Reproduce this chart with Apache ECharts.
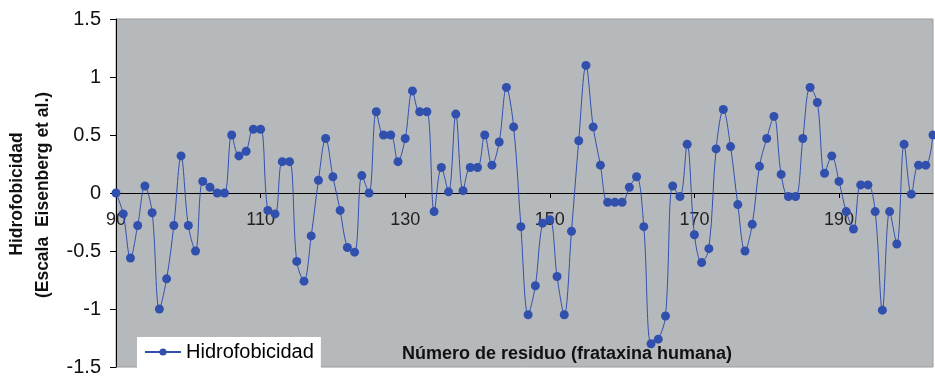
<!DOCTYPE html>
<html>
<head>
<meta charset="utf-8">
<script src="https://cdn.jsdelivr.net/npm/echarts@6/dist/echarts.min.js"></script>
<style>
  html, body { margin: 0; padding: 0; background: #ffffff; }
  #chart { width: 935px; height: 376px; }
</style>
</head>
<body>
<div id="chart"></div>
<script>
// Hydrophobicity profile (Eisenberg scale) for residues 90–203 of human frataxin
const firstResidue = 90;
const hydrophobicity = [
  0.00, -0.18, -0.56, -0.28, 0.06, -0.17, -1.00, -0.74, -0.28, 0.32,
  -0.28, -0.50, 0.10, 0.05, 0.00, 0.00, 0.50, 0.32, 0.36, 0.55,
  0.55, -0.15, -0.18, 0.27, 0.27, -0.59, -0.76, -0.37, 0.11, 0.47,
  0.14, -0.15, -0.47, -0.51, 0.15, 0.00, 0.70, 0.50, 0.50, 0.27,
  0.47, 0.88, 0.70, 0.70, -0.16, 0.22, 0.01, 0.68, 0.02, 0.22,
  0.22, 0.50, 0.24, 0.44, 0.91, 0.57, -0.29, -1.05, -0.80, -0.26,
  -0.23, -0.72, -1.05, -0.33, 0.45, 1.10, 0.57, 0.24, -0.08, -0.08,
  -0.08, 0.05, 0.14, -0.29, -1.30, -1.26, -1.06, 0.06, -0.03, 0.42,
  -0.36, -0.60, -0.48, 0.38, 0.72, 0.40, -0.10, -0.50, -0.27, 0.23,
  0.47, 0.66, 0.16, -0.03, -0.03, 0.47, 0.91, 0.78, 0.17, 0.32,
  0.10, -0.16, -0.31, 0.07, 0.07, -0.16, -1.01, -0.16, -0.44, 0.42,
  -0.01, 0.24, 0.24, 0.50
];
const residues = hydrophobicity.map((_, i) => String(firstResidue + i));
const yTicks = [-1.5, -1, -0.5, 0, 0.5, 1, 1.5];

const seriesName = 'Hidrofobicidad';
const xTitle = 'Número de residuo (frataxina humana)';
const yTitle1 = 'Hidrofobicidad';
const yTitle2 = '(Escala  Eisenberg et al.)';

const font = '"Liberation Sans", Arial, sans-serif';
const blue = '#3150ad';

// plot box geometry; the category axis sits on the zero line, i.e. half-way up
const gridTop = 19;
const gridBottom = 9;
const plotHeight = 376 - gridTop - gridBottom;

const chart = echarts.init(document.getElementById('chart'), null, { renderer: 'canvas' });
chart.setOption({
  animation: false,
  backgroundColor: '#ffffff',
  textStyle: { fontFamily: font },
  grid: {
    left: 116, right: 2, top: gridTop, bottom: gridBottom,
    containLabel: false,
    outerBoundsMode: 'none',
    show: true,
    backgroundColor: '#b6b9bc',
    borderColor: '#9a9a9a',
    borderWidth: 1
  },
  xAxis: {
    type: 'category',
    data: residues,
    boundaryGap: false,
    offset: -plotHeight / 2,
    axisLine: { onZero: false, lineStyle: { color: '#000000', width: 1 } },
    axisTick: { show: true, interval: 19, inside: false, length: 5, lineStyle: { color: '#000000' } },
    axisLabel: { interval: 19, margin: 18, fontSize: 18, color: '#222222', fontFamily: font },
    splitLine: { show: false }
  },
  yAxis: {
    type: 'value',
    min: yTicks[0],
    max: yTicks[yTicks.length - 1],
    interval: 0.5,
    axisLine: { show: true, lineStyle: { color: '#000000', width: 1 } },
    axisTick: { show: true, length: 6, lineStyle: { color: '#000000' } },
    axisLabel: { margin: 15, fontSize: 20, color: '#111111', fontFamily: font,
      formatter: v => String(v) },
    splitLine: { show: false }
  },
  legend: {
    left: 137, top: 337,
    backgroundColor: '#ffffff',
    padding: [5, 7, 6, 7],
    itemWidth: 36, itemHeight: 9,
    itemGap: 4,
    textStyle: { fontSize: 20, color: '#000000', fontFamily: font },
    data: [seriesName]
  },
  graphic: [
    {
      type: 'text', x: 567, y: 354,
      style: { text: xTitle, font: 'bold 18px ' + font, fill: '#111111', textAlign: 'center', textVerticalAlign: 'middle' }
    },
    {
      type: 'text', x: 17, y: 194, rotation: Math.PI / 2,
      style: { text: yTitle1, font: 'bold 17.5px ' + font, fill: '#111111', textAlign: 'center', textVerticalAlign: 'middle' }
    },
    {
      type: 'text', x: 43, y: 195, rotation: Math.PI / 2,
      style: { text: yTitle2, font: 'bold 17.5px ' + font, fill: '#111111', textAlign: 'center', textVerticalAlign: 'middle' }
    }
  ],
  series: [{
    name: seriesName,
    type: 'line',
    data: hydrophobicity,
    smooth: 0.35,
    symbol: 'circle',
    symbolSize: 9,
    showAllSymbol: true,
    lineStyle: { color: blue, width: 1 },
    itemStyle: { color: blue }
  }]
});
</script>
</body>
</html>
